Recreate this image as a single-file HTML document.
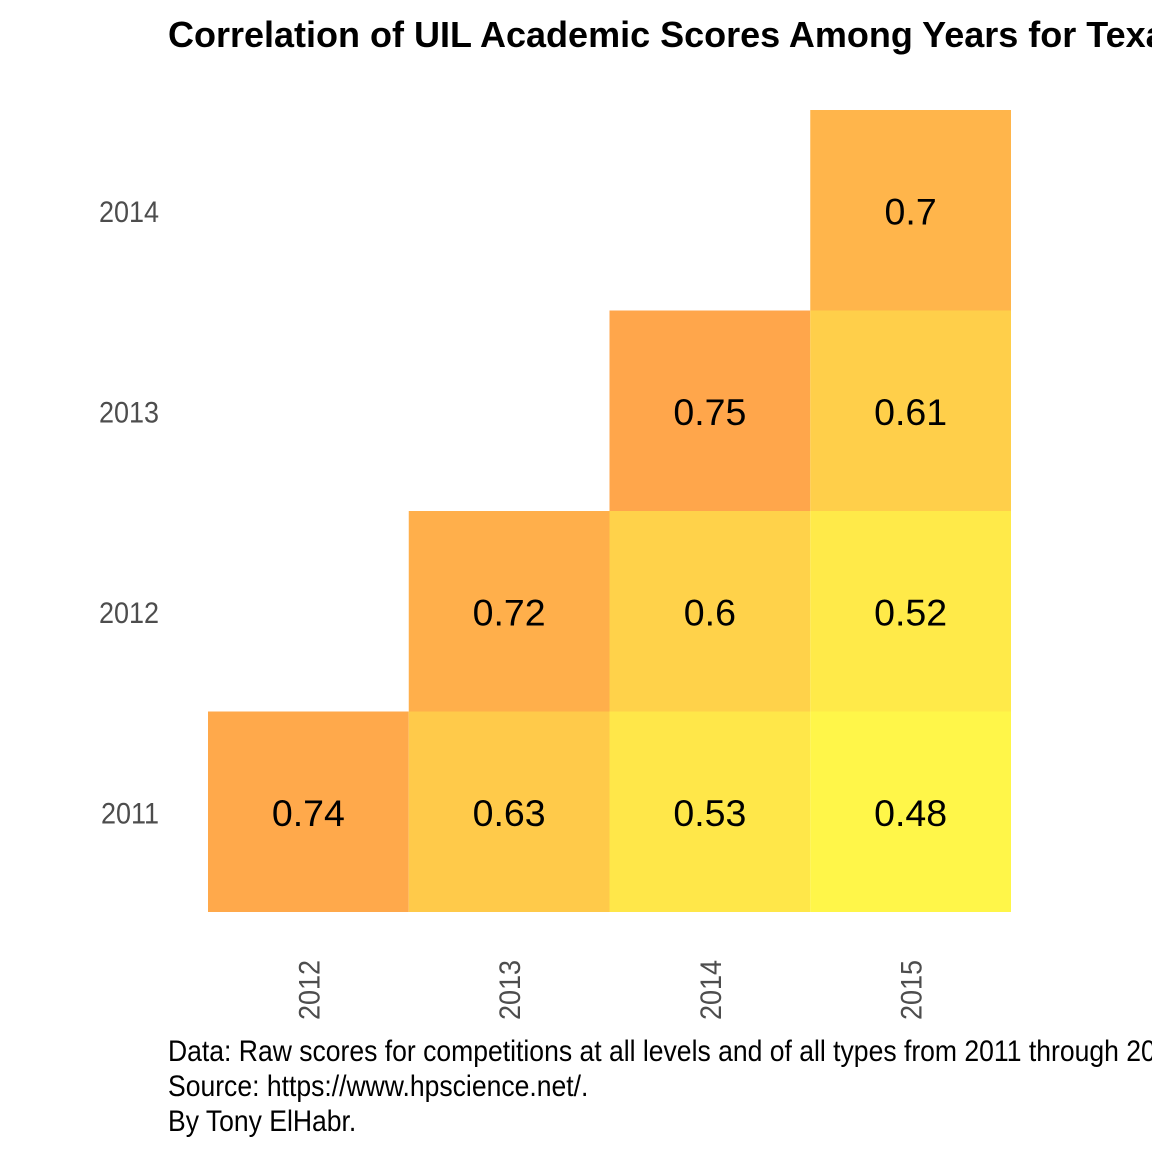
<!DOCTYPE html>
<html><head><meta charset="utf-8"><style>
html,body{margin:0;padding:0;background:#fff;width:1152px;height:1152px;overflow:hidden}
svg{display:block;font-family:"Liberation Sans",sans-serif}
</style></head><body>
<svg id="chart" width="1152" height="1152" viewBox="0 0 1152 1152">
<text x="168" y="47" font-size="36" font-weight="bold" fill="#000" transform="translate(168 0) scale(1.0 1) translate(-168 0)">Correlation of UIL Academic Scores Among Years for Texas High Schools</text>
<g id="cells"></g>
<g id="ylabels"></g>
<g id="xlabels"></g>
<g font-size="30" fill="#000" transform="translate(168 0) scale(0.885 1)">
<text x="0" y="1061">Data: Raw scores for competitions at all levels and of all types from 2011 through 2015.</text>
<text x="0" y="1096">Source: https://www.hpscience.net/.</text>
<text x="0" y="1131">By Tony ElHabr.</text>
</g>
</svg>
<script>
const xCats = ["2012","2013","2014","2015"];
const yCats = ["2011","2012","2013","2014"];
const cellX = ["2012","2013","2014","2015","2013","2014","2015","2014","2015","2015"];
const cellY = ["2011","2011","2011","2011","2012","2012","2012","2013","2013","2014"];
const cellV = [0.74,0.63,0.53,0.48,0.72,0.6,0.52,0.75,0.61,0.7];

const NS="http://www.w3.org/2000/svg";
const x0=208, cw=200.75, yBottom=912, ch=200.5;
function xPos(c){return x0+xCats.indexOf(c)*cw;}
function yPos(c){return yBottom-(yCats.indexOf(c)+1)*ch;}
const vmin=0.48, vmax=0.75;
function color(v){
  const t=Math.max(0,Math.min(1,(v-vmin)/(vmax-vmin)));
  const r=255, g=Math.round(246-t*80), b=Math.round(73+t*2);
  return `rgb(${r},${g},${b})`;
}
const cells=document.getElementById('cells');
cellV.forEach((v,i)=>{
  const r=document.createElementNS(NS,'rect');
  r.setAttribute('x',xPos(cellX[i]));r.setAttribute('y',yPos(cellY[i]));
  r.setAttribute('width',cw);r.setAttribute('height',ch);
  r.setAttribute('fill',color(v));
  
  
  cells.appendChild(r);
  const t=document.createElementNS(NS,'text');
  t.setAttribute('x',xPos(cellX[i])+cw/2);t.setAttribute('y',yPos(cellY[i])+ch/2+14);
  t.setAttribute('text-anchor','middle');t.setAttribute('font-size','37.5');t.setAttribute('fill','#000');
  t.textContent=String(v);
  
  
  cells.appendChild(t);
});
const yl=document.getElementById('ylabels');
yCats.forEach(c=>{
  const t=document.createElementNS(NS,'text');
  const cy=yPos(c)+ch/2+12;
  t.setAttribute('x',159);t.setAttribute('y',cy);t.setAttribute('text-anchor','end');
  t.setAttribute('font-size','30');t.setAttribute('fill','#4d4d4d');
  t.setAttribute('transform',`translate(159 0) scale(0.9 1) translate(-159 0)`);
  t.textContent=c;
  
  
  yl.appendChild(t);
});
const xl=document.getElementById('xlabels');
xCats.forEach(c=>{
  const t=document.createElementNS(NS,'text');
  const cx=xPos(c)+cw/2+11;
  t.setAttribute('text-anchor','end');
  t.setAttribute('font-size','30');t.setAttribute('fill','#4d4d4d');
  t.setAttribute('transform',`translate(${cx} 960) rotate(-90) scale(0.9 1)`);
  t.textContent=c;
  
  
  xl.appendChild(t);
});
</script>
</body></html>
